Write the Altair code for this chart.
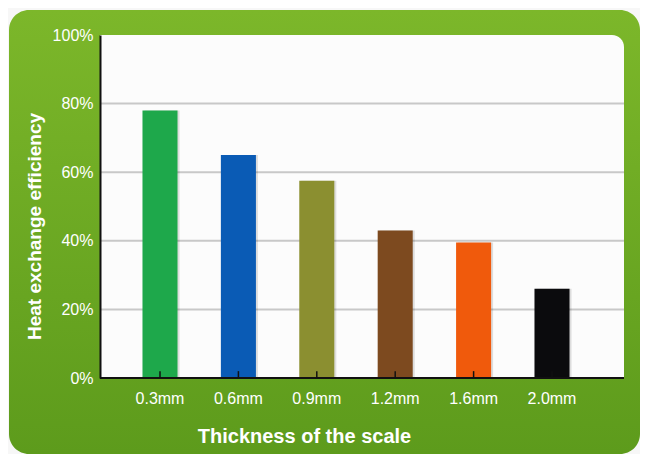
import altair as alt
import pandas as pd

categories = ["0.3mm", "0.6mm", "0.9mm", "1.2mm", "1.6mm", "2.0mm"]
efficiency = [0.78, 0.65, 0.575, 0.43, 0.395, 0.26]
bar_colors = ["#1ea84b", "#0a5bb5", "#8b8f30", "#7d4a1f", "#f05a0c", "#0b0b0d"]
grid_values = [0.2, 0.4, 0.6, 0.8]
y_ticks = [0, 0.2, 0.4, 0.6, 0.8, 1.0]

df = pd.DataFrame({"thickness": categories, "eff": efficiency})
grid_df = pd.DataFrame({"eff": grid_values})
tick_df = pd.DataFrame({"thickness": categories, "eff": [0.0] * len(categories), "top": [0.02] * len(categories)})

W, H = 524, 343
FONT = "Liberation Sans"

yscale = alt.Scale(domain=[0, 1])
xscale = alt.Scale(domain=categories, range=[20.8, 491.2], paddingInner=0.553, paddingOuter=0.2765)

xaxis = alt.Axis(
    title="Thickness of the scale",
    labelAngle=0,
    labelColor="white",
    labelFont=FONT,
    labelFontSize=16,
    labelPadding=12,
    ticks=False,
    grid=False,
    domain=False,
    titleColor="white",
    titleFont=FONT,
    titleFontSize=20,
    titleFontWeight="bold",
    titleX=204,
    titleY=64,
    titleBaseline="alphabetic",
    zindex=2,
)
yaxis = alt.Axis(
    title="Heat exchange efficiency",
    values=y_ticks,
    format=".0%",
    grid=False,
    ticks=False,
    labelColor="white",
    labelFont=FONT,
    labelFontSize=16,
    labelPadding=7,
    domainColor="#111111",
    domainWidth=2,
    titleColor="white",
    titleFont=FONT,
    titleFontSize=19,
    titleFontWeight="bold",
    titleAngle=270,
    titleX=-66,
    titleY=191,
    titleAlign="center",
    titleBaseline="middle",
    zindex=2,
)

green = alt.Gradient(
    gradient="linear",
    stops=[alt.GradientStop(color="#7cb72a", offset=0), alt.GradientStop(color="#5d9b1c", offset=1)],
    x1=0, x2=0, y1=0, y2=1,
)

bg = alt.Chart(alt.Data(values=[{}])).mark_rect(cornerRadius=20, color=green).encode(
    x=alt.value(-91), x2=alt.value(540), y=alt.value(-25), y2=alt.value(419)
)

plot_bg = alt.Chart(alt.Data(values=[{}])).mark_rect(color="#fcfcfc", cornerRadiusTopRight=12).encode(
    x=alt.value(0), x2=alt.value(W), y=alt.value(0), y2=alt.value(H)
)

grid = alt.Chart(grid_df).mark_rule(color="#c8c8c8", strokeWidth=2).encode(
    y=alt.Y("eff:Q", scale=yscale, axis=yaxis)
)

shadow = alt.Chart(df).mark_bar(color="#000000", opacity=0.12, xOffset=2).encode(
    x=alt.X("thickness:N", scale=xscale, axis=xaxis),
    y=alt.Y("eff:Q", scale=yscale, axis=yaxis),
)

bars = alt.Chart(df).mark_bar().encode(
    x=alt.X("thickness:N", scale=xscale, axis=xaxis),
    y=alt.Y("eff:Q", scale=yscale, axis=yaxis),
    color=alt.Color("thickness:N", scale=alt.Scale(domain=categories, range=bar_colors), legend=None),
)

baseline = alt.Chart(alt.Data(values=[{}])).mark_rule(color="#111111", strokeWidth=2).encode(
    x=alt.value(0), x2=alt.value(W), y=alt.value(H)
)

ticks = alt.Chart(tick_df).mark_rule(color="#111111", strokeWidth=1.5).encode(
    x=alt.X("thickness:N", scale=xscale, axis=xaxis),
    y=alt.Y("eff:Q", scale=yscale, axis=yaxis),
    y2=alt.Y2("top:Q"),
)

chart = alt.layer(bg, plot_bg, grid, shadow, bars, baseline, ticks).properties(
    width=W,
    height=H,
    autosize=alt.AutoSizeParams(type="none"),
    padding={"left": 92, "top": 27, "right": 16, "bottom": 76},
    background="#f7f7f7",
).configure_view(stroke=None)

chart.save("out.html", embed_options={"renderer": "svg", "actions": False})
